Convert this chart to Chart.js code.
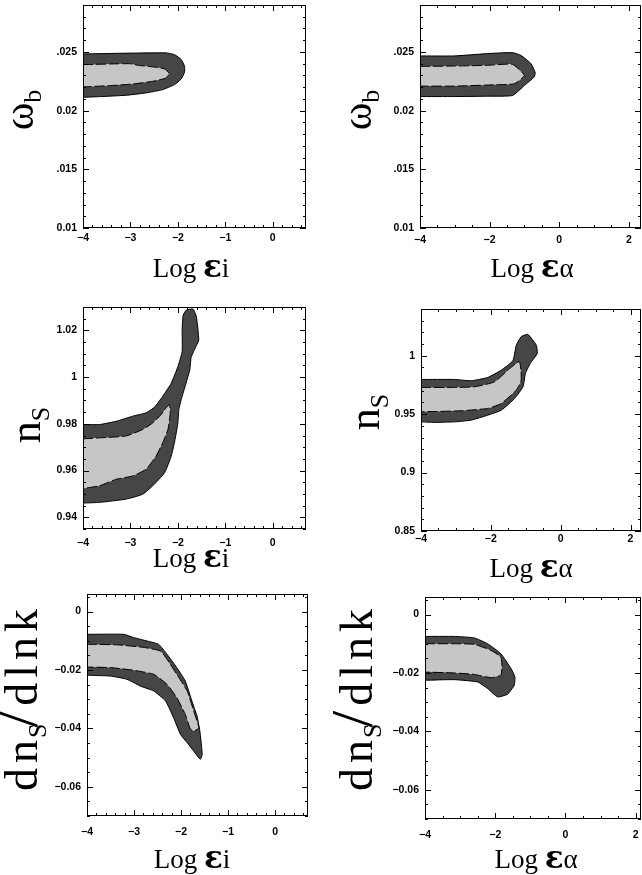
<!DOCTYPE html>
<html>
<head>
<meta charset="utf-8">
<script src="https://cdn.jsdelivr.net/npm/chart.js@4.4.0/dist/chart.umd.min.js"></script>
<style>
  html, body { margin: 0; padding: 0; background: #fff; }
  #wrap { position: relative; width: 642px; height: 875px; overflow: hidden; }
  canvas { position: absolute; }
</style>
</head>
<body>
<div id="wrap">
  <canvas id="p1" width="321" height="290" style="left:0;top:0"></canvas>
  <canvas id="p2" width="321" height="290" style="left:321px;top:0"></canvas>
  <canvas id="p3" width="321" height="300" style="left:0;top:290px"></canvas>
  <canvas id="p4" width="321" height="300" style="left:321px;top:290px"></canvas>
  <canvas id="p5" width="321" height="285" style="left:0;top:590px"></canvas>
  <canvas id="p6" width="321" height="285" style="left:321px;top:590px"></canvas>
</div>
<script>
// tick values / labels
const xTicksI = [-4, -3, -2, -1, 0];
const xLabelsI = ["−4", "−3", "−2", "−1", "0"];
const xTicksA = [-4, -2, 0, 2];
const xLabelsA = ["−4", "−2", "0", "2"];
const wbTicks = [0.01, 0.015, 0.02, 0.025];
const wbLabels = ["0.01", ".015", "0.02", ".025"];
const nsTicksI = [0.94, 0.96, 0.98, 1, 1.02];
const nsLabelsI = ["0.94", "0.96", "0.98", "1", "1.02"];
const nsTicksA = [0.85, 0.9, 0.95, 1];
const nsLabelsA = ["0.85", "0.9", "0.95", "1"];
const runTicks = [-0.06, -0.04, -0.02, 0];
const runLabels = ["−0.06", "−0.04", "−0.02", "0"];

// contours: [log eps, parameter], 95% (outer) and 68% (inner)
const wbI95 = [[-4,0.02483],[-3,0.0249],[-2.25,0.02492],[-2.07,0.02477],[-1.93,0.02435],[-1.86,0.02378],[-1.86,0.02327],[-1.93,0.0227],[-2.07,0.02222],[-2.32,0.02179],[-2.67,0.02151],[-3.09,0.02131],[-3.65,0.02119],[-4,0.02114]];
const wbI68 = [[-4,0.02392],[-3.02,0.024],[-2.81,0.02384],[-2.46,0.0237],[-2.28,0.02355],[-2.19,0.02321],[-2.25,0.02278],[-2.53,0.0225],[-2.95,0.02227],[-3.44,0.02213],[-4,0.02202]];
const wbA95 = [[-4,0.02466],[-3.01,0.02466],[-2.06,0.02486],[-1.34,0.02494],[-1.1,0.02471],[-0.81,0.024],[-0.69,0.02323],[-0.72,0.02286],[-1.0,0.02214],[-1.34,0.02129],[-2.06,0.02123],[-3.01,0.0212],[-4,0.0212]];
const wbA68 = [[-4,0.02377],[-3.01,0.0238],[-2.06,0.02386],[-1.34,0.02394],[-1.0,0.023],[-1.29,0.02229],[-1.87,0.0222],[-3.01,0.02209],[-4,0.02209]];
const nsI95 = [[-4,0.9797],[-3.65,0.9797],[-3.3,0.9811],[-2.95,0.9833],[-2.67,0.9847],[-2.49,0.9872],[-2.32,0.9918],[-2.14,0.9974],[-2.0,1.0045],[-1.91,1.0109],[-1.91,1.0201],[-1.89,1.0265],[-1.82,1.0287],[-1.68,1.0291],[-1.61,1.0258],[-1.56,1.0159],[-1.61,1.0135],[-1.72,1.0085],[-1.75,1.003],[-1.93,0.9904],[-1.98,0.9861],[-2.0,0.9804],[-2.06,0.9733],[-2.14,0.9662],[-2.28,0.9591],[-2.53,0.9535],[-2.74,0.9499],[-3.09,0.9478],[-3.65,0.9464],[-4,0.9461]];
const nsI68 = [[-4,0.9736],[-3.65,0.974],[-3.09,0.9748],[-2.74,0.9776],[-2.53,0.9804],[-2.35,0.984],[-2.25,0.9868],[-2.18,0.9882],[-2.16,0.9847],[-2.21,0.9776],[-2.32,0.9719],[-2.46,0.9662],[-2.67,0.9606],[-2.95,0.9577],[-3.3,0.9563],[-3.65,0.9535],[-4,0.9523]];
const nsA95 = [[-4,0.9797],[-3.04,0.9797],[-2.56,0.9786],[-2.09,0.9814],[-1.7,0.9877],[-1.37,0.9957],[-1.27,1.0091],[-1.13,1.0163],[-0.94,1.0183],[-0.7,1.0091],[-0.67,1.002],[-0.86,0.994],[-1.01,0.9849],[-1.08,0.9734],[-1.32,0.9634],[-1.7,0.9534],[-2.09,0.9491],[-2.56,0.9449],[-3.04,0.9434],[-3.62,0.9429],[-4,0.9434]];
const nsA68 = [[-4,0.9729],[-3.04,0.9729],[-2.47,0.9734],[-1.89,0.9777],[-1.46,0.9891],[-1.18,0.9949],[-1.13,0.9791],[-1.27,0.9706],[-1.7,0.9591],[-2.09,0.9549],[-2.85,0.9529],[-4,0.952]];
const runI95 = [[-4,-0.0078],[-3.22,-0.0078],[-3.01,-0.0089],[-2.72,-0.0101],[-2.48,-0.0112],[-2.3,-0.0146],[-2.09,-0.0192],[-1.91,-0.0238],[-1.77,-0.0306],[-1.66,-0.0358],[-1.6,-0.0409],[-1.55,-0.0489],[-1.59,-0.0506],[-1.73,-0.0478],[-1.87,-0.0449],[-2.01,-0.0421],[-2.16,-0.0363],[-2.33,-0.0306],[-2.58,-0.0272],[-2.87,-0.0255],[-3.15,-0.0232],[-3.5,-0.0221],[-4,-0.0218]];
const runI68 = [[-4,-0.0112],[-3.36,-0.0114],[-2.79,-0.0123],[-2.44,-0.0135],[-2.3,-0.0163],[-2.09,-0.0215],[-1.87,-0.0272],[-1.73,-0.0341],[-1.62,-0.0398],[-1.72,-0.0409],[-1.8,-0.0403],[-1.91,-0.0352],[-2.09,-0.0295],[-2.3,-0.0249],[-2.58,-0.0215],[-3.01,-0.0201],[-3.5,-0.0192],[-4,-0.019]];
const runA95 = [[-4,-0.0075],[-3.17,-0.0075],[-2.6,-0.008],[-2.22,-0.01],[-1.84,-0.0134],[-1.55,-0.0185],[-1.44,-0.0214],[-1.46,-0.0242],[-1.65,-0.0273],[-1.93,-0.0282],[-2.22,-0.0253],[-2.5,-0.0231],[-3.17,-0.0223],[-4,-0.0225]];
const runA68 = [[-4,-0.01],[-3.17,-0.01],[-2.6,-0.0102],[-2.12,-0.0123],[-1.84,-0.0146],[-1.81,-0.018],[-1.84,-0.0208],[-2.12,-0.0216],[-2.6,-0.0205],[-3.17,-0.02],[-4,-0.0197]];

const DARK = "#464646";
const LIGHT = "#c6c6c6";
const SERIF = "'Liberation Serif', 'Times New Roman', serif";
const TICK_FONT = { family: "'Liberation Sans', Arial, sans-serif", size: 10.5, weight: "bold" };

// axis title pieces
const omegaTitle = [{ t: "ω", f: "42px " + SERIF }, { t: "b", f: "26px " + SERIF, dy: 8 }];
const nsTitle = [{ t: "n", f: "44px " + SERIF }, { t: "S", f: "26px " + SERIF, dy: 9 }];
const runTitle = [
  { t: "d", f: "46px " + SERIF, g: 5 }, { t: "n", f: "46px " + SERIF, g: 2 },
  { t: "S", f: "26px " + SERIF, dy: 9, g: -4 }, { t: "/", f: "60px " + SERIF, g: 5 },
  { t: "d", f: "46px " + SERIF, g: 5 }, { t: "l", f: "46px " + SERIF, g: 5 },
  { t: "n", f: "46px " + SERIF, g: 5 }, { t: "k", f: "46px " + SERIF }
];
const epsI = [{ t: "Log ", f: "27px " + SERIF }, { t: "ε", f: "bold 31px 'DejaVu Serif', serif" }, { t: "i", f: "27px " + SERIF }];
const epsA = [{ t: "Log ", f: "27px " + SERIF }, { t: "ε", f: "bold 31px 'DejaVu Serif', serif" }, { t: "α", f: "27px " + SERIF }];

const panels = [
  { id: "p1", area: { l: 83, r: 306, t: 5, b: 228 }, x: [-4, 0.7], y: [0.01, 0.029], xt: xTicksI, xl: xLabelsI, xm: 0.2, yt: wbTicks, yl: wbLabels, ym: 0.001, c95: wbI95, c68: wbI68, yTitle: omegaTitle, xTitle: epsI, yb: 33, yc: 110, tx: 191, tb: 277, lp: 4 },
  { id: "p2", area: { l: 99, r: 320, t: 5, b: 228 }, x: [-4, 2.35], y: [0.01, 0.029], xt: xTicksA, xl: xLabelsA, xm: 0.5, yt: wbTicks, yl: wbLabels, ym: 0.001, c95: wbA95, c68: wbA68, yTitle: omegaTitle, xTitle: epsA, yb: 50, yc: 110, tx: 211, tb: 277, lp: 6 },
  { id: "p3", area: { l: 83, r: 306, t: 17, b: 239 }, x: [-4, 0.7], y: [0.935, 1.03], xt: xTicksI, xl: xLabelsI, xm: 0.2, yt: nsTicksI, yl: nsLabelsI, ym: 0.005, c95: nsI95, c68: nsI68, yTitle: nsTitle, xTitle: epsI, yb: 40, yc: 135, tx: 191, tb: 277, lp: 8 },
  { id: "p4", area: { l: 100, r: 320, t: 19, b: 241 }, x: [-4, 2.3], y: [0.85, 1.04], xt: xTicksA, xl: xLabelsA, xm: 0.5, yt: nsTicksA, yl: nsLabelsA, ym: 0.01, c95: nsA95, c68: nsA68, yTitle: nsTitle, xTitle: epsA, yb: 58, yc: 122, tx: 210, tb: 287, lp: 2 },
  { id: "p5", area: { l: 87, r: 308, t: 4, b: 226 }, x: [-4, 0.7], y: [-0.07, 0.006], xt: xTicksI, xl: xLabelsI, xm: 0.2, yt: runTicks, yl: runLabels, ym: 0.005, c95: runI95, c68: runI68, yTitle: runTitle, xTitle: epsI, yb: 37, yc: 110, tx: 192, tb: 278, lp: 10 },
  { id: "p6", area: { l: 104, r: 320, t: 7, b: 229 }, x: [-4, 2.15], y: [-0.07, 0.006], xt: xTicksA, xl: xLabelsA, xm: 0.5, yt: runTicks, yl: runLabels, ym: 0.005, c95: runA95, c68: runA68, yTitle: runTitle, xTitle: epsA, yb: 51, yc: 110, tx: 215, tb: 278, lp: 10 }
];

function drawParts(ctx, parts, cx, base, rotated) {
  let total = 0;
  const widths = parts.map(p => {
    ctx.font = p.f;
    const w = ctx.measureText(p.t).width + (p.g || 0);
    total += w;
    return w;
  });
  ctx.save();
  if (rotated) {
    ctx.translate(base, cx);
    ctx.rotate(-Math.PI / 2);
  } else {
    ctx.translate(cx, base);
  }
  ctx.fillStyle = "#000";
  ctx.textBaseline = "alphabetic";
  ctx.textAlign = "left";
  let pos = -total / 2;
  parts.forEach((p, i) => {
    ctx.font = p.f;
    ctx.fillText(p.t, pos, p.dy || 0);
    pos += widths[i];
  });
  ctx.restore();
}

// minor tick positions between min and max
function steps(min, max, step) {
  const out = [];
  const n0 = Math.ceil(min / step - 1e-6), n1 = Math.floor(max / step + 1e-6);
  for (let k = n0; k <= n1; k++) out.push(k * step);
  return out;
}

function framePlugin(p) {
  return {
    id: "frame",
    afterDatasetsDraw(chart) {
      const { ctx, chartArea: a, scales: { x, y } } = chart;
      ctx.save();
      ctx.strokeStyle = "#000";
      ctx.lineWidth = 1;
      ctx.strokeRect(a.left + 0.5, a.top + 0.5, a.right - a.left - 1, a.bottom - a.top - 1);
      ctx.beginPath();
      const tickX = (v, len) => {
        const px = Math.round(x.getPixelForValue(v)) + 0.5;
        ctx.moveTo(px, a.bottom); ctx.lineTo(px, a.bottom - len);
        ctx.moveTo(px, a.top); ctx.lineTo(px, a.top + len);
      };
      const tickY = (v, len) => {
        const py = Math.round(y.getPixelForValue(v)) + 0.5;
        ctx.moveTo(a.left, py); ctx.lineTo(a.left + len, py);
        ctx.moveTo(a.right, py); ctx.lineTo(a.right - len, py);
      };
      steps(p.x[0], p.x[1], p.xm).forEach(v => tickX(v, 3));
      p.xt.forEach(v => tickX(v, 6));
      steps(p.y[0], p.y[1], p.ym).forEach(v => tickY(v, 3));
      p.yt.forEach(v => tickY(v, 6));
      ctx.stroke();
      ctx.restore();
    },
    afterDraw(chart) {
      const ctx = chart.ctx;
      drawParts(ctx, p.yTitle, p.yc, p.yb, true);
      drawParts(ctx, p.xTitle, p.tx, p.tb, false);
    }
  };
}

const toXY = arr => arr.map(([x, y]) => ({ x, y }));

panels.forEach(p => {
  const canvas = document.getElementById(p.id);
  new Chart(canvas, {
    type: "scatter",
    data: {
      datasets: [
        {
          data: toXY(p.c68), showLine: true, fill: "shape", backgroundColor: LIGHT,
          borderColor: "#000", borderWidth: 1, borderDash: [10, 3], pointRadius: 0, tension: 0.15
        },
        {
          data: toXY(p.c95), showLine: true, fill: "shape", backgroundColor: DARK,
          borderColor: "#000", borderWidth: 1, pointRadius: 0, tension: 0.15
        }
      ]
    },
    options: {
      responsive: false,
      animation: false,
      events: [],
      layout: { padding: { top: p.area.t, right: canvas.width - p.area.r, bottom: 0, left: 0 } },
      plugins: { legend: { display: false }, tooltip: { enabled: false } },
      scales: {
        x: {
          type: "linear", min: p.x[0], max: p.x[1],
          grid: { display: false, drawTicks: false }, border: { display: false },
          afterBuildTicks: s => { s.ticks = p.xt.map(v => ({ value: v })); },
          ticks: { autoSkip: false, maxRotation: 0, padding: p.lp, color: "#000", font: TICK_FONT,
            callback: (v, i) => p.xl[i] },
          afterFit: s => { s.height = canvas.height - p.area.b; s.paddingLeft = 0; s.paddingRight = 0; }
        },
        y: {
          type: "linear", min: p.y[0], max: p.y[1],
          grid: { display: false, drawTicks: false }, border: { display: false },
          afterBuildTicks: s => { s.ticks = p.yt.map(v => ({ value: v })); },
          ticks: { autoSkip: false, padding: 6, color: "#000", font: TICK_FONT,
            callback: (v, i) => p.yl[i] },
          afterFit: s => { s.width = p.area.l; s.paddingTop = 0; s.paddingBottom = 0; }
        }
      }
    },
    plugins: [framePlugin(p)]
  });
});
</script>
</body>
</html>
